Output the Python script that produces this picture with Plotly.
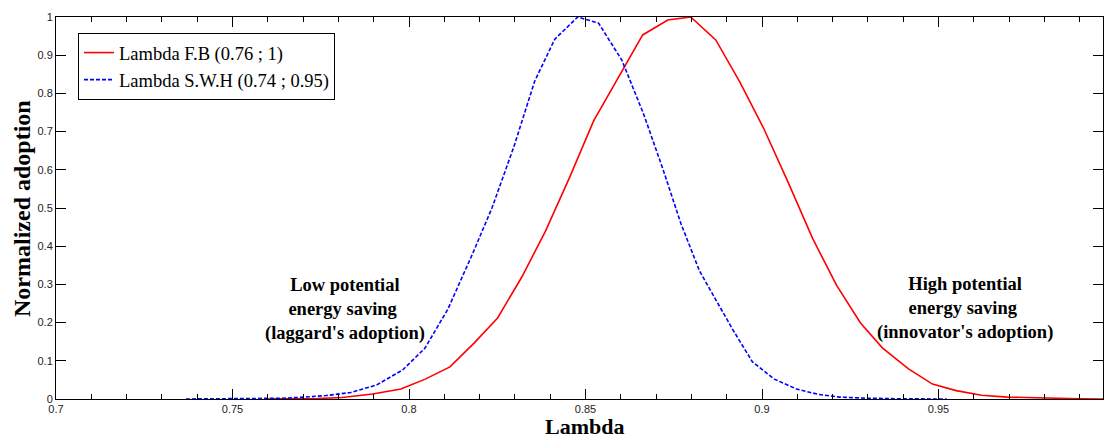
import plotly.graph_objects as go

# Lambda F.B (red, solid)
fb_lambda = [0.760, 0.767, 0.774, 0.781, 0.7897, 0.7977, 0.8046, 0.8116, 0.8185, 0.8251,
             0.832, 0.8387, 0.8455, 0.8523, 0.8592, 0.8662, 0.8733, 0.8798, 0.8869, 0.8937,
             0.9004, 0.9075, 0.9143, 0.9211, 0.9279, 0.9341, 0.9415, 0.9483, 0.955, 0.9622,
             0.9695, 0.976, 0.983, 0.990, 0.9966]
fb_adoption = [0.0, 0.0005, 0.001, 0.004, 0.013, 0.026, 0.052, 0.084, 0.147, 0.212,
               0.32, 0.44, 0.58, 0.728, 0.84, 0.953, 0.992, 1.0, 0.94, 0.83,
               0.71, 0.565, 0.421, 0.298, 0.199, 0.134, 0.079, 0.039, 0.022, 0.010,
               0.005, 0.003, 0.001, 0.0005, 0.0]

# Lambda S.W.H (blue, dashed)
swh_lambda = [0.7368, 0.745, 0.752, 0.758, 0.764, 0.7705, 0.7765, 0.7835, 0.7909, 0.7982,
              0.8045, 0.811, 0.818, 0.8235, 0.8297, 0.8356, 0.8413, 0.8478, 0.8537, 0.8603,
              0.8665, 0.872, 0.877, 0.8823, 0.8865, 0.8917, 0.8973, 0.9035, 0.9098, 0.916,
              0.922, 0.930, 0.940, 0.9523]
swh_adoption = [0.0, 0.0003, 0.0005, 0.001, 0.002, 0.005, 0.009, 0.017, 0.037, 0.076,
                0.133, 0.235, 0.38, 0.50, 0.66, 0.832, 0.942, 1.0, 0.984, 0.887,
                0.745, 0.60, 0.46, 0.335, 0.265, 0.182, 0.097, 0.052, 0.026, 0.012,
                0.005, 0.002, 0.0005, 0.0]

legend_names = ["Lambda F.B (0.76 ; 1)", "Lambda S.W.H (0.74 ; 0.95)"]
x_title = "Lambda"
y_title = "Normalized adoption"
note_low = "Low potential<br>energy saving <br>(laggard's adoption)"
note_high = "High potential<br>energy saving <br>(innovator's adoption)"

fig = go.Figure()
fig.add_trace(go.Scatter(x=fb_lambda, y=fb_adoption, mode="lines", name=legend_names[0],
                         line=dict(color="#ff0000", width=1.6)))
fig.add_trace(go.Scatter(x=swh_lambda, y=swh_adoption, mode="lines", name=legend_names[1],
                         line=dict(color="#0000ff", width=1.6, dash="4px,2px")))

serif = "Liberation Serif, Times New Roman, serif"
sans = "Liberation Sans, Arial, sans-serif"

fig.update_layout(
    width=1112, height=439,
    margin=dict(l=56, r=9, t=17, b=40),
    paper_bgcolor="white", plot_bgcolor="white",
    showlegend=True,
    legend=dict(x=0.021, y=0.958, xanchor="left", yanchor="top",
                bgcolor="white", bordercolor="black", borderwidth=1,
                font=dict(family=serif, size=18.5, color="black"),
                tracegroupgap=0, itemwidth=30),
    xaxis=dict(range=[0.7, 0.9966], tick0=0.7, dtick=0.05, tickmode="linear",
               showgrid=False, zeroline=False, showline=True, linecolor="black",
               linewidth=1, mirror="ticks", ticks="inside", ticklen=10,
               tickcolor="black", tickwidth=1,
               tickfont=dict(family=sans, size=11, color="#222"),
               minor=dict(tickmode="linear", tick0=0.7, dtick=0.01, ticks="inside",
                          ticklen=5, tickcolor="black", tickwidth=1, showgrid=False)),
    yaxis=dict(range=[0, 1], tick0=0, dtick=0.1, tickmode="linear",
               showgrid=False, zeroline=False, showline=True, linecolor="black",
               linewidth=1, mirror="ticks", ticks="inside", ticklen=10,
               tickcolor="black", tickwidth=1,
               tickfont=dict(family=sans, size=11, color="#222")),
    annotations=[
        dict(text="<b>%s</b>" % x_title, xref="paper", yref="paper", x=0.505, y=-0.072,
             xanchor="center", yanchor="middle", showarrow=False,
             font=dict(family=serif, size=22, color="black")),
        dict(text="<b>%s</b>" % y_title, xref="paper", yref="paper", x=-0.0325, y=0.5,
             xanchor="center", yanchor="middle", showarrow=False, textangle=-90,
             font=dict(family=serif, size=24, color="black")),
        dict(text="<b>%s</b>" % note_low, xref="x", yref="y", x=0.7818, y=0.233,
             xanchor="center", yanchor="middle", showarrow=False,
             font=dict(family=serif, size=18.5, color="black")),
        dict(text="<b>%s</b>" % note_high, xref="x", yref="y", x=0.9576, y=0.238,
             xanchor="center", yanchor="middle", showarrow=False,
             font=dict(family=serif, size=18.5, color="black")),
    ],
)

fig.write_html("out.html", config={"displayModeBar": False},
               post_script="document.body.style.margin='0';document.body.style.overflow='hidden';")
